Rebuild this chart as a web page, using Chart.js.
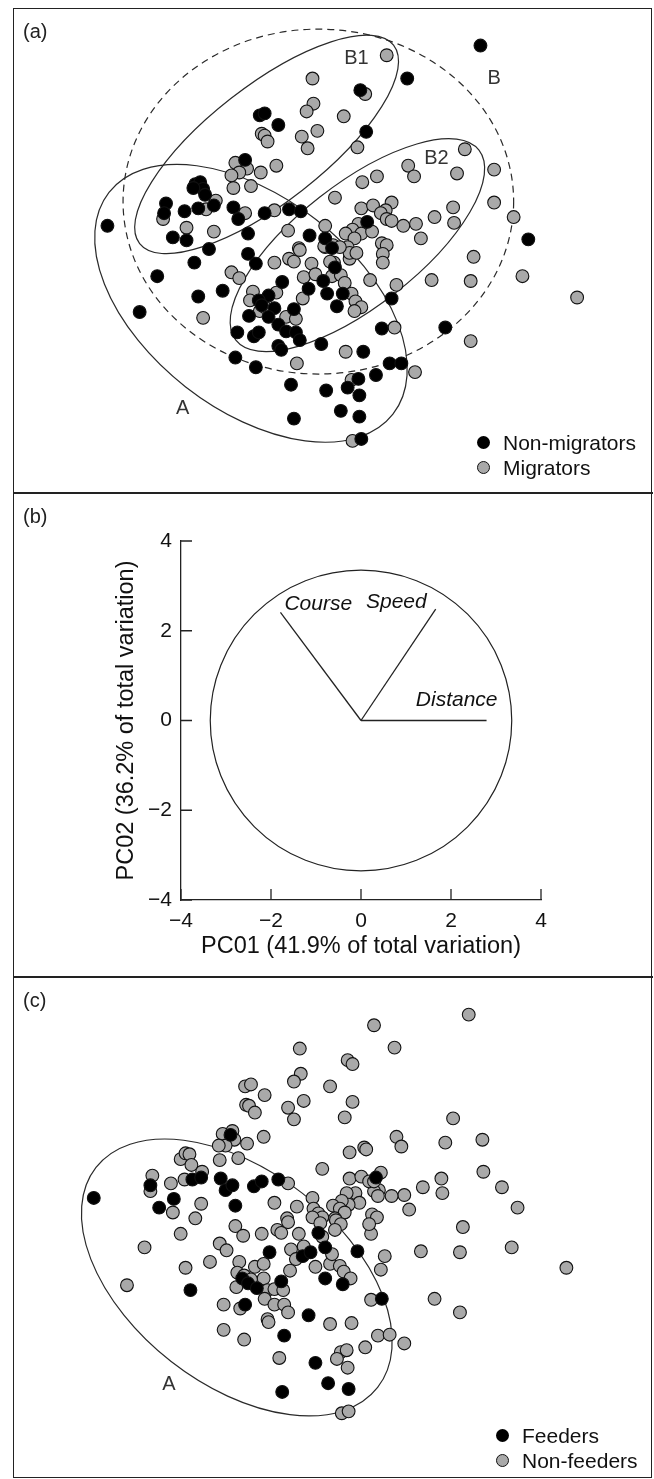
<!DOCTYPE html>
<html>
<head>
<meta charset="utf-8">
<title>PCA of movement tracks</title>
<script src="https://cdn.jsdelivr.net/npm/chart.js@4.4.1/dist/chart.umd.min.js"></script>
<style>
  body { margin: 0; background: #fff; width: 654px; height: 1479px; position: relative; overflow: hidden;
         font-family: "Liberation Sans", Arial, sans-serif; color: #111; }
  .frame { position: absolute; left: 13px; top: 8px; width: 637px; height: 1468px; border: 1.5px solid #222; }
  .sep { position: absolute; left: 13px; width: 640px; height: 2px; background: #222; }
  .tag { position: absolute; left: 23px; font-size: 20px; line-height: 20px; color: #222; }
  canvas { position: absolute; }
  .legend { position: absolute; font-size: 21px; line-height: 25px; color: #111; }
  .legend .item { display: flex; align-items: center; height: 25px; white-space: nowrap; }
  .dot { display: inline-block; width: 13px; height: 13px; border-radius: 50%; margin-right: 13px; box-sizing: border-box; }
  .dot.black { background: #000; }
  .dot.grey { background: #a9a9a9; border: 1.2px solid #111; }
</style>
</head>
<body>
<div class="frame"></div>
<div class="sep" style="top:492px"></div>
<div class="sep" style="top:976px"></div>

<canvas id="panelA" width="638" height="483" style="left:14px; top:9px"></canvas>
<canvas id="panelB" width="638" height="482" style="left:14px; top:494px"></canvas>
<canvas id="panelC" width="638" height="500" style="left:14px; top:978px"></canvas>

<div class="tag" style="top:21px">(a)</div>
<div class="tag" style="top:506px">(b)</div>
<div class="tag" style="top:990px">(c)</div>

<div class="legend" style="left:477px; top:430px">
  <div class="item"><span class="dot black"></span>Non-migrators</div>
  <div class="item"><span class="dot grey"></span>Migrators</div>
</div>
<div class="legend" style="left:496px; top:1423px">
  <div class="item"><span class="dot black"></span>Feeders</div>
  <div class="item"><span class="dot grey"></span>Non-feeders</div>
</div>

<script>
// ---- scores on PC01 / PC02, panel (a) ----
const nonMigPC1 = [-4.62,-1.50,-1.40,-1.12,-1.80,-2.82,-2.72,-2.66,-2.62,-2.86,-3.42,-3.46,-3.04,-2.76,-2.44,-2.04,-1.94,-1.40,-0.90,-0.66,
  -3.28,-3.00,-1.74,-0.48,-0.16,-2.54,3.02,1.52,0.56,0.68,0.70,4.00,-0.02,-3.60,-3.96,-2.76,-2.26,-2.84,-1.74,-1.58,
  -1.04,-0.50,-0.12,-0.20,-1.32,-1.52,-1.46,-1.20,-1.72,-1.32,-1.12,-0.96,-0.80,-0.76,-0.68,-1.96,-1.62,-1.52,-1.12,-1.06,
  -0.24,-2.00,-1.58,-0.86,-0.14,-0.80,2.30,1.20,1.00,0.62,1.16,1.40,0.88,0.52,0.30,0.54,0.16,0.54,0.58,0.04,0.08,0.20];
const nonMigPC2 = [0.50,2.78,2.82,2.58,1.86,1.36,1.40,1.26,1.14,1.28,0.96,0.76,0.80,0.86,0.92,0.88,0.64,0.76,0.84,0.80,
  0.26,0.20,0.34,0.30,0.24,0.02,4.22,3.54,3.30,2.44,0.58,0.22,0.04,-0.54,-1.28,-0.96,-0.84,-0.26,-0.08,-0.28,
  -0.66,-0.80,-0.90,-0.64,-0.94,-1.04,-1.14,-1.20,-1.36,-1.38,-1.54,-1.68,-1.22,-1.70,-1.86,-1.70,-1.78,-1.70,-1.98,-2.06,
  -1.94,-2.22,-2.42,-2.78,-2.90,-3.48,-1.60,-1.00,-1.62,-2.10,-2.34,-2.34,-2.58,-2.66,-2.84,-3.00,-3.32,-3.44,-3.90,-0.36,-1.16,-0.90];
const migPC1 = [-0.42,-0.40,-0.54,-0.32,-0.64,-0.52,-1.46,-1.40,-1.34,-2.00,-1.76,-1.92,-2.08,-1.48,-1.16,-2.04,-1.68,-2.40,-2.60,-1.80,
  -1.20,-3.48,-3.00,-2.44,-0.92,-0.16,-0.70,-0.16,1.10,0.66,0.22,0.50,2.70,3.30,3.30,3.70,1.54,1.66,2.54,0.60,
  0.90,0.04,0.58,0.82,1.20,1.08,0.98,1.10,1.20,1.44,1.70,2.08,2.46,2.48,1.80,0.52,0.40,0.58,0.80,0.26,
  0.44,1.00,1.10,0.00,0.30,-2.66,-2.08,-1.92,-1.20,-0.90,-0.80,-0.68,-0.44,-0.60,-0.36,-0.62,-1.64,-1.70,-1.16,-1.50,
  -1.40,-0.96,-0.76,-0.74,2.88,2.82,3.88,5.00,2.82,2.02,1.30,0.76,1.26,1.68,0.26,0.38,0.40,1.02,1.02,0.34,
  0.02,-0.06,-0.02,0.16,0.24,0.38,0.46,0.58,0.44,0.34,0.48,-0.18,0.14];
const migPC2 = [3.54,3.02,2.86,2.46,2.34,2.10,2.40,2.36,2.24,1.80,1.68,1.60,1.54,1.60,1.74,1.28,1.32,1.02,0.84,0.76,
  0.82,0.64,0.46,0.38,0.40,0.50,0.04,0.06,4.02,3.22,2.76,2.12,2.08,1.66,0.98,0.68,1.74,1.52,1.58,1.40,
  1.52,1.08,0.86,0.92,0.98,0.82,0.76,0.64,0.60,0.50,0.54,0.68,0.88,0.56,0.24,0.54,0.42,0.34,0.38,0.34,
  0.24,0.14,0.10,0.10,0.06,-1.40,-0.46,-0.58,-0.26,-0.18,-0.24,0.00,-0.28,-0.56,-0.50,-1.00,-0.86,-1.04,-0.88,-1.26,
  -1.18,-1.38,-1.42,-2.34,-0.14,-0.64,-0.54,-0.98,-1.88,-0.62,-0.72,-0.62,-1.60,-2.52,-2.10,-2.68,-3.94,-0.08,-0.26,-0.18,
  -0.26,-0.24,-0.54,-0.52,-0.68,-0.90,-1.06,-1.18,-1.26,-0.06,-0.06,0.08,0.06];

// ---- scores on PC01 / PC02, panel (c) ----
const feedPC1 = [-2.10,-4.90,-3.74,-3.26,-3.56,-2.88,-2.70,-2.30,-2.20,-2.06,-1.62,-1.46,-2.00,-1.12,0.88,-2.92,-1.30,-1.86,-1.74,-1.56,
  -1.06,-1.80,-0.62,-0.46,-0.30,-0.16,-0.16,-0.50,-1.00,-0.36,-0.10,-1.04,0.50,1.00,0.20,0.32];
const feedPC2 = [1.92,0.62,0.88,0.60,0.42,1.00,1.04,1.02,0.78,0.88,0.86,0.96,0.46,1.00,1.04,-1.28,-0.50,-1.04,-1.14,-1.24,
  -1.10,-1.58,-0.58,-0.50,-0.10,-0.40,-1.04,-1.80,-2.22,-2.78,-3.20,-3.38,-0.48,-1.46,-1.16,-3.32];
const nonFeedPC1 = [-0.68,-0.66,-0.80,-0.60,-0.92,-0.80,-1.80,-1.68,-1.40,-1.78,-1.72,-1.60,-0.06,-2.26,-2.06,-2.02,-2.20,-2.34,-1.76,-1.42,
  -1.94,-2.32,-3.12,-3.02,-2.94,-2.90,-2.68,-3.04,-3.70,-3.32,-3.74,-2.70,-3.28,-0.22,-0.92,-1.20,-0.74,-0.42,-0.40,-0.30,
  -2.82,-0.94,2.78,0.84,1.26,0.30,0.40,0.40,0.24,2.46,1.30,1.40,2.30,3.06,0.34,0.64,0.68,0.34,0.58,0.98,
  2.22,3.08,3.46,3.78,1.84,2.24,1.46,1.20,0.94,0.84,0.92,0.74,0.84,0.46,0.28,0.54,0.32,0.18,0.00,0.14,
  0.24,1.56,0.80,0.90,0.04,-0.22,-3.86,-4.22,-3.12,-3.02,-2.52,-2.32,-2.18,-2.00,-1.84,-1.46,-1.14,-1.06,-0.92,-0.70,
  -0.86,-0.60,-0.76,-0.88,-0.36,-0.42,-0.26,-0.22,-0.06,-1.92,-1.60,-1.42,-1.96,-1.82,-1.42,-1.98,-1.68,-1.34,-1.20,-1.02,
  -1.40,-1.20,-1.00,-0.92,-2.24,-1.90,-1.34,-1.32,-2.24,-1.82,-1.10,-0.06,2.66,1.80,2.60,3.66,4.78,2.08,2.60,0.78,
  1.06,0.98,0.78,0.74,0.38,0.92,1.16,1.46,0.66,0.16,0.28,0.08,0.30,0.18,0.32,0.06,0.16,0.04,-0.02,0.14,
  0.22,0.36];
const nonFeedPC2 = [3.70,3.18,3.02,2.62,2.48,2.24,2.92,2.96,2.74,2.54,2.52,2.38,2.92,1.94,2.00,1.82,1.70,1.70,1.74,1.88,
  1.44,1.40,1.42,1.54,1.52,1.30,1.16,1.00,1.08,0.92,0.76,0.50,0.32,1.22,0.92,0.52,0.44,0.62,0.40,0.30,
  0.20,0.20,4.40,4.18,3.72,3.46,3.38,2.60,2.28,2.26,1.88,1.68,1.76,1.82,1.56,1.66,1.62,1.02,1.06,1.14,
  1.02,1.16,0.84,0.42,0.84,0.72,0.68,0.66,0.78,0.76,0.66,0.96,0.96,0.72,0.72,0.52,0.48,0.56,0.46,0.40,
  0.32,0.38,0.28,0.22,0.20,0.22,-0.40,-1.18,-0.12,-0.82,-0.70,-0.32,-0.46,0.04,-0.16,-0.12,-0.04,-0.10,0.12,-0.12,
  -0.44,-0.38,-0.64,-0.88,-0.80,0.22,0.10,-0.18,-0.74,-0.70,-0.80,-0.74,-0.92,-0.98,-1.04,-1.22,-1.06,-1.28,-1.26,-1.28,
  -1.46,-1.58,-1.58,-1.74,-1.58,-1.66,-1.88,-1.94,-2.10,-2.30,-2.68,-1.98,0.02,-0.48,-0.50,-0.40,-0.82,-1.46,-1.74,-1.48,
  -0.58,-0.86,-0.12,0.08,-1.96,-2.22,-2.20,-2.38,-2.46,-2.56,-2.52,-2.70,-2.88,-3.82,-3.78,0.16,0.08,-0.04,-0.54,-0.78,
  -0.90,-1.04];

// ---- panel (b): variable loadings ----
const loadingNames = ['Course', 'Speed', 'Distance'];
const loadingPC1 = [-1.79, 1.66, 2.79];
const loadingPC2 = [2.41, 2.48, 0.00];
const circleRadius = 3.35;
const axisTicks = [-4, -2, 0, 2, 4];

const FONT = '"Liberation Sans", Arial, sans-serif';
Chart.defaults.font.family = FONT;
Chart.defaults.color = '#111';

const pts = (xs, ys) => xs.map((x, i) => ({ x, y: ys[i] }));

// outlines (ellipses) and their letters, in score units
const shapes = {
  id: 'shapes',
  beforeDatasetsDraw(chart, args, opts) {
    const { ctx, scales: { x, y } } = chart;
    const ux = x.getPixelForValue(1) - x.getPixelForValue(0);
    const uy = y.getPixelForValue(0) - y.getPixelForValue(1);
    ctx.save();
    ctx.strokeStyle = '#2a2a2a';
    ctx.lineWidth = 1.2;
    (opts.ellipses || []).forEach(e => {
      ctx.setLineDash(e.dash || []);
      ctx.beginPath();
      ctx.ellipse(x.getPixelForValue(e.cx), y.getPixelForValue(e.cy), e.a * ux, e.b * uy,
        -e.angle * Math.PI / 180, 0, Math.PI * 2);
      ctx.stroke();
    });
    ctx.setLineDash([]);
    ctx.fillStyle = '#333';
    ctx.font = '20px ' + FONT;
    ctx.textAlign = 'center';
    ctx.textBaseline = 'middle';
    (opts.labels || []).forEach(l => ctx.fillText(l.text, x.getPixelForValue(l.x), y.getPixelForValue(l.y)));
    ctx.restore();
  }
};

function scatterPanel(canvasId, groups, yRange, shapeOpts) {
  return new Chart(document.getElementById(canvasId), {
    type: 'scatter',
    data: {
      datasets: groups.map(g => ({
        label: g.label,
        data: g.data,
        backgroundColor: g.fill,
        borderColor: '#111',
        borderWidth: 1.1,
        pointRadius: 6.4,
        clip: false
      }))
    },
    options: {
      responsive: false,
      animation: false,
      events: [],
      layout: { padding: 0 },
      plugins: { legend: { display: false }, tooltip: { enabled: false }, shapes: shapeOpts },
      scales: {
        x: { type: 'linear', min: -6.38, max: 6.38, display: false },
        y: { type: 'linear', min: yRange[0], max: yRange[1], display: false }
      }
    },
    plugins: [shapes]
  });
}

// (a) non-migrators vs migrators
scatterPanel('panelA', [
  { label: 'Non-migrators', data: pts(nonMigPC1, nonMigPC2), fill: '#000' },
  { label: 'Migrators', data: pts(migPC1, migPC2), fill: '#a9a9a9' }
], [-4.84, 4.82], {
  ellipses: [
    { cx: -1.68, cy: -1.10, a: 3.69, b: 2.19, angle: -38 },
    { cx: -0.30, cy: 1.00, a: 4.00, b: 3.56, angle: 0, dash: [7, 5] },
    { cx: -1.36, cy: 2.18, a: 3.30, b: 1.20, angle: 38 },
    { cx: 0.50, cy: 0.10, a: 3.16, b: 1.26, angle: 38 }
  ],
  labels: [
    { text: 'A', x: -3.08, y: -3.28 },
    { text: 'B', x: 3.30, y: 3.54 },
    { text: 'B1', x: 0.48, y: 3.96 },
    { text: 'B2', x: 2.12, y: 1.88 }
  ]
});

// (c) feeders vs non-feeders
scatterPanel('panelC', [
  { label: 'Feeders', data: pts(feedPC1, feedPC2), fill: '#000' },
  { label: 'Non-feeders', data: pts(nonFeedPC1, nonFeedPC2), fill: '#a9a9a9' }
], [-5.0, 5.0], {
  ellipses: [{ cx: -1.97, cy: -1.02, a: 3.66, b: 2.20, angle: -38 }],
  labels: [{ text: 'A', x: -3.36, y: -3.22 }]
});

// (b) correlation circle with loading vectors
const circleAndTicks = {
  id: 'circleAndTicks',
  beforeDatasetsDraw(chart) {
    const { ctx, scales: { x, y } } = chart;
    ctx.save();
    ctx.strokeStyle = '#222';
    ctx.lineWidth = 1.2;
    ctx.beginPath();
    ctx.ellipse(x.getPixelForValue(0), y.getPixelForValue(0),
      x.getPixelForValue(circleRadius) - x.getPixelForValue(0),
      y.getPixelForValue(0) - y.getPixelForValue(circleRadius), 0, 0, Math.PI * 2);
    ctx.stroke();
    ctx.restore();
  },
  afterDraw(chart) {
    const { ctx, chartArea, scales: { x, y } } = chart;
    ctx.save();
    ctx.strokeStyle = '#222';
    ctx.lineWidth = 1.3;
    ctx.beginPath();
    x.ticks.forEach(t => {
      const px = x.getPixelForValue(t.value);
      ctx.moveTo(px, chartArea.bottom);
      ctx.lineTo(px, chartArea.bottom - 11);
    });
    y.ticks.forEach(t => {
      const py = y.getPixelForValue(t.value);
      ctx.moveTo(chartArea.left, py);
      ctx.lineTo(chartArea.left + 11, py);
    });
    ctx.stroke();

    // variable names at the arrow tips
    const place = [[4, -2, 'left'], [-9, -1, 'right'], [11, -15, 'right']];
    ctx.fillStyle = '#111';
    ctx.font = 'italic 21px ' + FONT;
    ctx.textBaseline = 'alphabetic';
    loadingNames.forEach((name, i) => {
      ctx.textAlign = place[i][2];
      ctx.fillText(name, x.getPixelForValue(loadingPC1[i]) + place[i][0], y.getPixelForValue(loadingPC2[i]) + place[i][1]);
    });
    ctx.restore();
  }
};

const minus = v => String(v).replace('-', '\u2212');

new Chart(document.getElementById('panelB'), {
  type: 'scatter',
  data: {
    datasets: loadingNames.map((name, i) => ({
      label: name,
      data: [{ x: 0, y: 0 }, { x: loadingPC1[i], y: loadingPC2[i] }],
      showLine: true,
      borderColor: '#222',
      borderWidth: 1.3,
      pointRadius: 0,
      fill: false
    }))
  },
  options: {
    responsive: false,
    animation: false,
    events: [],
    layout: { padding: { left: 94, top: 47, right: 111, bottom: 11 } },
    plugins: { legend: { display: false }, tooltip: { enabled: false } },
    scales: {
      x: {
        type: 'linear', min: -4, max: 4,
        afterBuildTicks: s => { s.ticks = axisTicks.map(v => ({ value: v })); },
        afterFit: s => { s.height = 65; },
        grid: { display: false, drawTicks: false },
        border: { display: true, color: '#222', width: 1.3 },
        ticks: { color: '#111', font: { size: 21 }, padding: 9, maxRotation: 0, callback: minus },
        title: { display: true, text: 'PC01 (41.9% of total variation)', color: '#111', font: { size: 23.5 } }
      },
      y: {
        type: 'linear', min: -4, max: 4,
        afterBuildTicks: s => { s.ticks = axisTicks.map(v => ({ value: v })); },
        afterFit: s => { s.width = 73; },
        grid: { display: false, drawTicks: false },
        border: { display: true, color: '#222', width: 1.3 },
        ticks: { color: '#111', font: { size: 21 }, padding: 9, callback: minus },
        title: { display: true, text: 'PC02 (36.2% of total variation)', color: '#111', font: { size: 23.5 } }
      }
    }
  },
  plugins: [circleAndTicks]
});
</script>
</body>
</html>
